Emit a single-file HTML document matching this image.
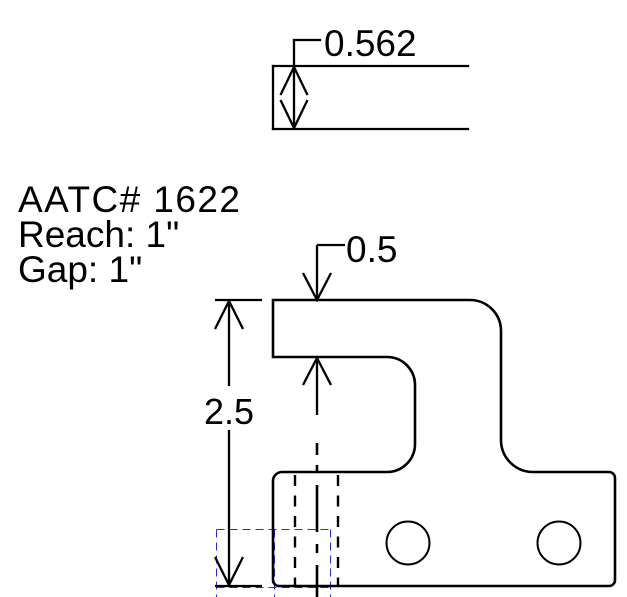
<!DOCTYPE html>
<html>
<head>
<meta charset="utf-8">
<style>
  html, body { margin:0; padding:0; background:#fff; }
  svg { display:block; }
  text { font-family: "Liberation Sans", Arial, sans-serif; fill:#000; }
</style>
</head>
<body>
<svg width="627" height="597" viewBox="0 0 627 597" xmlns="http://www.w3.org/2000/svg">
  <!-- blue construction rectangles -->
  <g stroke="#2a2ad8" stroke-width="1" fill="none" stroke-dasharray="8 5" shape-rendering="crispEdges">
    <path d="M216.5,529.5 L330.5,529.5"/>
    <path d="M216.5,529.5 L216.5,597"/>
    <path d="M330.5,529.5 L330.5,597"/>
    <path d="M274.5,529.5 L274.5,597"/>
    <path d="M216.5,587.5 L330.5,587.5"/>
  </g>

  <!-- top piece -->
  <g stroke="#000" stroke-width="2.3" fill="none" stroke-linecap="square">
    <path d="M273,66 L468,66"/>
    <path d="M273,129 L468,129"/>
    <path d="M273,66 L273,129"/>
    <path d="M294,40 L294,128"/>
    <path d="M294,40 L320,40"/>
    <path d="M281,94 L294,67 L307,94"/>
    <path d="M281,101 L294,128 L307,101"/>
  </g>
  <text x="324" y="56" font-size="37">0.562</text>

  <!-- info text -->
  <text x="18" y="212" font-size="37" textLength="222" lengthAdjust="spacing">AATC# 1622</text>
  <text x="18" y="247" font-size="37">Reach: 1"</text>
  <text x="18" y="282" font-size="37">Gap: 1"</text>

  <!-- main outline -->
  <path d="M273,357 L273,300 L470,300 A31,31 0 0 1 501,331 L501,440 A32,32 0 0 0 533,472 L609,472 A6,6 0 0 1 615,478 L615,580 A6,6 0 0 1 609,586 L279,586 A6,6 0 0 1 273,580 L273,481 A9,9 0 0 1 282,472 L387,472 A28,28 0 0 0 415,444 L415,385 A28,28 0 0 0 387,357 Z"
        stroke="#000" stroke-width="2.6" fill="none"/>

  <!-- holes -->
  <circle cx="408" cy="543" r="21.5" stroke="#000" stroke-width="2" fill="none"/>
  <circle cx="559" cy="543" r="21.5" stroke="#000" stroke-width="2" fill="none"/>

  <!-- 2.5 dimension -->
  <g stroke="#000" stroke-width="2.3" fill="none">
    <path d="M215,300 L262,300"/>
    <path d="M215,586 L262,586"/>
    <path d="M229,301 L229,386"/>
    <path d="M229,430 L229,585"/>
    <path d="M215,329 L229,301 L243,329"/>
    <path d="M215,557 L229,585 L243,557"/>
  </g>
  <text x="204" y="424" font-size="36">2.5</text>

  <!-- 0.5 dimension -->
  <g stroke="#000" stroke-width="2.3" fill="none">
    <path d="M317,245 L317,299"/>
    <path d="M317,245 L345,245"/>
    <path d="M303,273 L317,300 L331,273"/>
    <path d="M303,385 L317,358 L331,385"/>
    <path d="M317,358 L317,415"/>
  </g>
  <text x="346" y="262" font-size="37">0.5</text>

  <!-- center line -->
  <g stroke="#000" stroke-width="2.6" fill="none">
    <path d="M317,443 L317,455"/>
    <path d="M317,465 L317,473"/>
    <path d="M317,485 L317,532"/>
    <path d="M317,544 L317,553"/>
    <path d="M317,565 L317,597"/>
  </g>

  <!-- hidden lines -->
  <g stroke="#000" stroke-width="2.4" fill="none" stroke-dasharray="11 9.5">
    <path d="M295,475 L295,586"/>
    <path d="M338,475 L338,586"/>
  </g>
</svg>
</body>
</html>
